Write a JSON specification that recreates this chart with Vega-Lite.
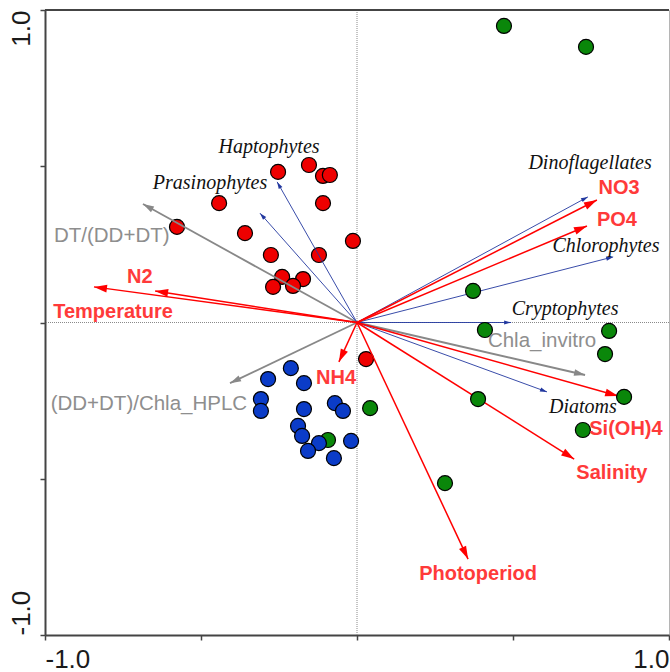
{
  "$schema": "https://vega.github.io/schema/vega-lite/v6.json",
  "width": 624,
  "height": 625,
  "autosize": "none",
  "padding": {"left": 45, "top": 10, "right": 1, "bottom": 37},
  "background": "white",
  "config": {"view": {"stroke": "#b5b5b5", "strokeWidth": 1}},
  "datasets": {
    "sites": [
      {"cluster": "I", "x": -0.253, "y": 0.482}, {"cluster": "I", "x": -0.154, "y": 0.504},
      {"cluster": "I", "x": -0.109, "y": 0.469}, {"cluster": "I", "x": -0.087, "y": 0.472},
      {"cluster": "I", "x": -0.442, "y": 0.382}, {"cluster": "I", "x": -0.109, "y": 0.382},
      {"cluster": "I", "x": -0.577, "y": 0.306}, {"cluster": "I", "x": -0.359, "y": 0.286},
      {"cluster": "I", "x": -0.013, "y": 0.261}, {"cluster": "I", "x": -0.276, "y": 0.216},
      {"cluster": "I", "x": -0.122, "y": 0.216}, {"cluster": "I", "x": -0.240, "y": 0.146},
      {"cluster": "I", "x": -0.173, "y": 0.139}, {"cluster": "I", "x": -0.269, "y": 0.114},
      {"cluster": "I", "x": -0.205, "y": 0.117}, {"cluster": "I", "x": 0.029, "y": -0.117},
      {"cluster": "II", "x": 0.471, "y": 0.949}, {"cluster": "II", "x": 0.734, "y": 0.882},
      {"cluster": "II", "x": 0.372, "y": 0.101}, {"cluster": "II", "x": 0.410, "y": -0.024},
      {"cluster": "II", "x": 0.808, "y": -0.027}, {"cluster": "II", "x": 0.795, "y": -0.101},
      {"cluster": "II", "x": 0.856, "y": -0.238}, {"cluster": "II", "x": 0.388, "y": -0.245},
      {"cluster": "II", "x": 0.724, "y": -0.344}, {"cluster": "II", "x": 0.282, "y": -0.514},
      {"cluster": "II", "x": 0.042, "y": -0.274}, {"cluster": "II", "x": -0.093, "y": -0.376},
      {"cluster": "III", "x": -0.212, "y": -0.146}, {"cluster": "III", "x": -0.285, "y": -0.181},
      {"cluster": "III", "x": -0.170, "y": -0.194}, {"cluster": "III", "x": -0.308, "y": -0.245},
      {"cluster": "III", "x": -0.308, "y": -0.283}, {"cluster": "III", "x": -0.170, "y": -0.277},
      {"cluster": "III", "x": -0.071, "y": -0.258}, {"cluster": "III", "x": -0.045, "y": -0.283},
      {"cluster": "III", "x": -0.189, "y": -0.331}, {"cluster": "III", "x": -0.176, "y": -0.363},
      {"cluster": "III", "x": -0.122, "y": -0.386}, {"cluster": "III", "x": -0.157, "y": -0.411},
      {"cluster": "III", "x": -0.019, "y": -0.379}, {"cluster": "III", "x": -0.074, "y": -0.434}
    ],
    "vectors": [
      {"name": "Temperature", "kind": "env", "x": -0.843, "y": 0.114, "lx": -0.782, "ly": 0.034},
      {"name": "N2", "kind": "env", "x": -0.647, "y": 0.101, "lx": -0.696, "ly": 0.146},
      {"name": "NO3", "kind": "env", "x": 0.769, "y": 0.392, "lx": 0.840, "ly": 0.430},
      {"name": "PO4", "kind": "env", "x": 0.737, "y": 0.309, "lx": 0.833, "ly": 0.328},
      {"name": "NH4", "kind": "env", "x": -0.058, "y": -0.126, "lx": -0.067, "ly": -0.178},
      {"name": "Si(OH)4", "kind": "env", "x": 0.837, "y": -0.235, "lx": 0.862, "ly": -0.341},
      {"name": "Salinity", "kind": "env", "x": 0.696, "y": -0.437, "lx": 0.817, "ly": -0.482},
      {"name": "Photoperiod", "kind": "env", "x": 0.356, "y": -0.757, "lx": 0.388, "ly": -0.805},
      {"name": "Haptophytes", "kind": "species", "x": -0.256, "y": 0.450, "lx": -0.282, "ly": 0.562},
      {"name": "Prasinophytes", "kind": "species", "x": -0.311, "y": 0.350, "lx": -0.471, "ly": 0.446},
      {"name": "Dinoflagellates", "kind": "species", "x": 0.740, "y": 0.402, "lx": 0.747, "ly": 0.510},
      {"name": "Chlorophytes", "kind": "species", "x": 0.821, "y": 0.210, "lx": 0.798, "ly": 0.245},
      {"name": "Cryptophytes", "kind": "species", "x": 0.494, "y": 0.0, "lx": 0.667, "ly": 0.043},
      {"name": "Diatoms", "kind": "species", "x": 0.609, "y": -0.222, "lx": 0.724, "ly": -0.270},
      {"name": "DT/(DD+DT)", "kind": "ratio", "x": -0.686, "y": 0.379, "lx": -0.786, "ly": 0.277},
      {"name": "(DD+DT)/Chla_HPLC", "kind": "ratio", "x": -0.407, "y": -0.194, "lx": -0.667, "ly": -0.261},
      {"name": "Chla_invitro", "kind": "ratio", "x": 0.731, "y": -0.168, "lx": 0.593, "ly": -0.059}
    ]
  },
  "layer": [
    {
      "data": {"values": [{"v": 0}]},
      "mark": {"type": "rule", "color": "#8a8a8a", "strokeWidth": 1, "strokeDash": [1, 1]},
      "encoding": {"x": {"field": "v", "type": "quantitative", "scale": {"domain": [-1, 1], "nice": false, "zero": false},
        "axis": {"title": null, "values": [-1, -0.5, 0, 0.5, 1], "labelExpr": "datum.value == 1 ? '1.0' : (datum.value == -1 ? '-1.0' : '')", "labelFlush": true, "labelOverlap": false, "labelFont": "Liberation Sans", "labelFontSize": 26, "labelColor": "#1a1a1a", "labelPadding": 6, "tickSize": 5, "tickColor": "#444", "tickWidth": 1.5, "domainColor": "#444", "domainWidth": 2, "grid": false}}}
    },
    {
      "data": {"values": [{"v": 0}]},
      "mark": {"type": "rule", "color": "#8a8a8a", "strokeWidth": 1, "strokeDash": [1, 1]},
      "encoding": {"y": {"field": "v", "type": "quantitative", "scale": {"domain": [-1, 1], "nice": false, "zero": false},
        "axis": {"title": null, "values": [-1, -0.5, 0, 0.5, 1], "labelExpr": "datum.value == 1 ? '1.0' : (datum.value == -1 ? '-1.0' : '')", "labelAngle": -90, "labelAlign": {"condition": {"test": "datum.value > 0", "value": "right"}, "value": "left"}, "labelBaseline": "bottom", "labelOverlap": false, "labelFont": "Liberation Sans", "labelFontSize": 26, "labelColor": "#1a1a1a", "labelPadding": 6, "tickSize": 5, "tickColor": "#444", "tickWidth": 1.5, "domainColor": "#444", "domainWidth": 2, "grid": false}}}
    },
    {
      "data": {"values": [{"v": 1}]},
      "mark": {"type": "rule", "color": "#444", "strokeWidth": 2},
      "encoding": {"y": {"field": "v", "type": "quantitative"}}
    },
    {
      "data": {"name": "sites"},
      "transform": [{"filter": "datum.cluster == 'I'"}],
      "mark": {"type": "point", "shape": "circle", "filled": true, "size": 225, "opacity": 1, "stroke": "#000", "strokeWidth": 1.2, "fill": "#ee0000"},
      "encoding": {
        "x": {"field": "x", "type": "quantitative"},
        "y": {"field": "y", "type": "quantitative"}
      }
    },
    {
      "data": {"name": "vectors"},
      "transform": [{"filter": "datum.kind == 'ratio'"}],
      "mark": {"type": "rule", "color": "#888888", "strokeWidth": 1.8},
      "encoding": {
        "x": {"field": "x", "type": "quantitative"},
        "y": {"field": "y", "type": "quantitative"},
        "x2": {"datum": 0},
        "y2": {"datum": 0}
      }
    },
    {
      "data": {"name": "vectors"},
      "transform": [{"filter": "datum.kind == 'species'"}],
      "mark": {"type": "rule", "color": "#22389f", "strokeWidth": 0.9},
      "encoding": {
        "x": {"field": "x", "type": "quantitative"},
        "y": {"field": "y", "type": "quantitative"},
        "x2": {"datum": 0},
        "y2": {"datum": 0}
      }
    },
    {
      "data": {"name": "vectors"},
      "transform": [{"filter": "datum.kind == 'env'"}],
      "mark": {"type": "rule", "color": "#ff0000", "strokeWidth": 1.5},
      "encoding": {
        "x": {"field": "x", "type": "quantitative"},
        "y": {"field": "y", "type": "quantitative"},
        "x2": {"datum": 0},
        "y2": {"datum": 0}
      }
    },
    {
      "data": {"name": "vectors"},
      "transform": [{"filter": "datum.kind == 'ratio'"}, {"calculate": "atan2(datum.x, datum.y) * 180 / PI", "as": "ang"}],
      "mark": {"type": "point", "shape": "M0,0L0.6,2L-0.6,2Z", "filled": true, "opacity": 1, "strokeWidth": 0, "color": "#888888", "size": 121},
      "encoding": {
        "x": {"field": "x", "type": "quantitative"},
        "y": {"field": "y", "type": "quantitative"},
        "angle": {"field": "ang", "type": "quantitative", "scale": null}
      }
    },
    {
      "data": {"name": "vectors"},
      "transform": [{"filter": "datum.kind == 'species'"}, {"calculate": "atan2(datum.x, datum.y) * 180 / PI", "as": "ang"}],
      "mark": {"type": "point", "shape": "M0,0L0.6,2L-0.6,2Z", "filled": true, "opacity": 1, "strokeWidth": 0, "color": "#22389f", "size": 49},
      "encoding": {
        "x": {"field": "x", "type": "quantitative"},
        "y": {"field": "y", "type": "quantitative"},
        "angle": {"field": "ang", "type": "quantitative", "scale": null}
      }
    },
    {
      "data": {"name": "vectors"},
      "transform": [{"filter": "datum.kind == 'env'"}, {"calculate": "atan2(datum.x, datum.y) * 180 / PI", "as": "ang"}],
      "mark": {"type": "point", "shape": "M0,0L0.6,2L-0.6,2Z", "filled": true, "opacity": 1, "strokeWidth": 0, "color": "#ff0000", "size": 169},
      "encoding": {
        "x": {"field": "x", "type": "quantitative"},
        "y": {"field": "y", "type": "quantitative"},
        "angle": {"field": "ang", "type": "quantitative", "scale": null}
      }
    },
    {
      "data": {"name": "sites"},
      "transform": [{"filter": "datum.cluster == 'II'"}],
      "mark": {"type": "point", "shape": "circle", "filled": true, "size": 225, "opacity": 1, "stroke": "#000", "strokeWidth": 1.2, "fill": "#0a870a"},
      "encoding": {
        "x": {"field": "x", "type": "quantitative"},
        "y": {"field": "y", "type": "quantitative"}
      }
    },
    {
      "data": {"name": "sites"},
      "transform": [{"filter": "datum.cluster == 'III'"}],
      "mark": {"type": "point", "shape": "circle", "filled": true, "size": 225, "opacity": 1, "stroke": "#000", "strokeWidth": 1.2, "fill": "#0b3cc8"},
      "encoding": {
        "x": {"field": "x", "type": "quantitative"},
        "y": {"field": "y", "type": "quantitative"}
      }
    },
    {
      "data": {"name": "vectors"},
      "transform": [{"filter": "datum.kind == 'species'"}],
      "mark": {"type": "text", "font": "Liberation Serif", "fontStyle": "italic", "fontSize": 20, "color": "#111", "align": "center", "baseline": "middle"},
      "encoding": {
        "x": {"field": "lx", "type": "quantitative"},
        "y": {"field": "ly", "type": "quantitative"},
        "text": {"field": "name"}
      }
    },
    {
      "data": {"name": "vectors"},
      "transform": [{"filter": "datum.kind == 'env'"}],
      "mark": {"type": "text", "font": "Liberation Sans", "fontWeight": "bold", "fontSize": 20, "color": "#ff3a3a", "align": "center", "baseline": "middle"},
      "encoding": {
        "x": {"field": "lx", "type": "quantitative"},
        "y": {"field": "ly", "type": "quantitative"},
        "text": {"field": "name"}
      }
    },
    {
      "data": {"name": "vectors"},
      "transform": [{"filter": "datum.kind == 'ratio'"}],
      "mark": {"type": "text", "font": "Liberation Sans", "fontSize": 20.5, "color": "#8e8e8e", "align": "center", "baseline": "middle"},
      "encoding": {
        "x": {"field": "lx", "type": "quantitative"},
        "y": {"field": "ly", "type": "quantitative"},
        "text": {"field": "name"}
      }
    }
  ]
}
